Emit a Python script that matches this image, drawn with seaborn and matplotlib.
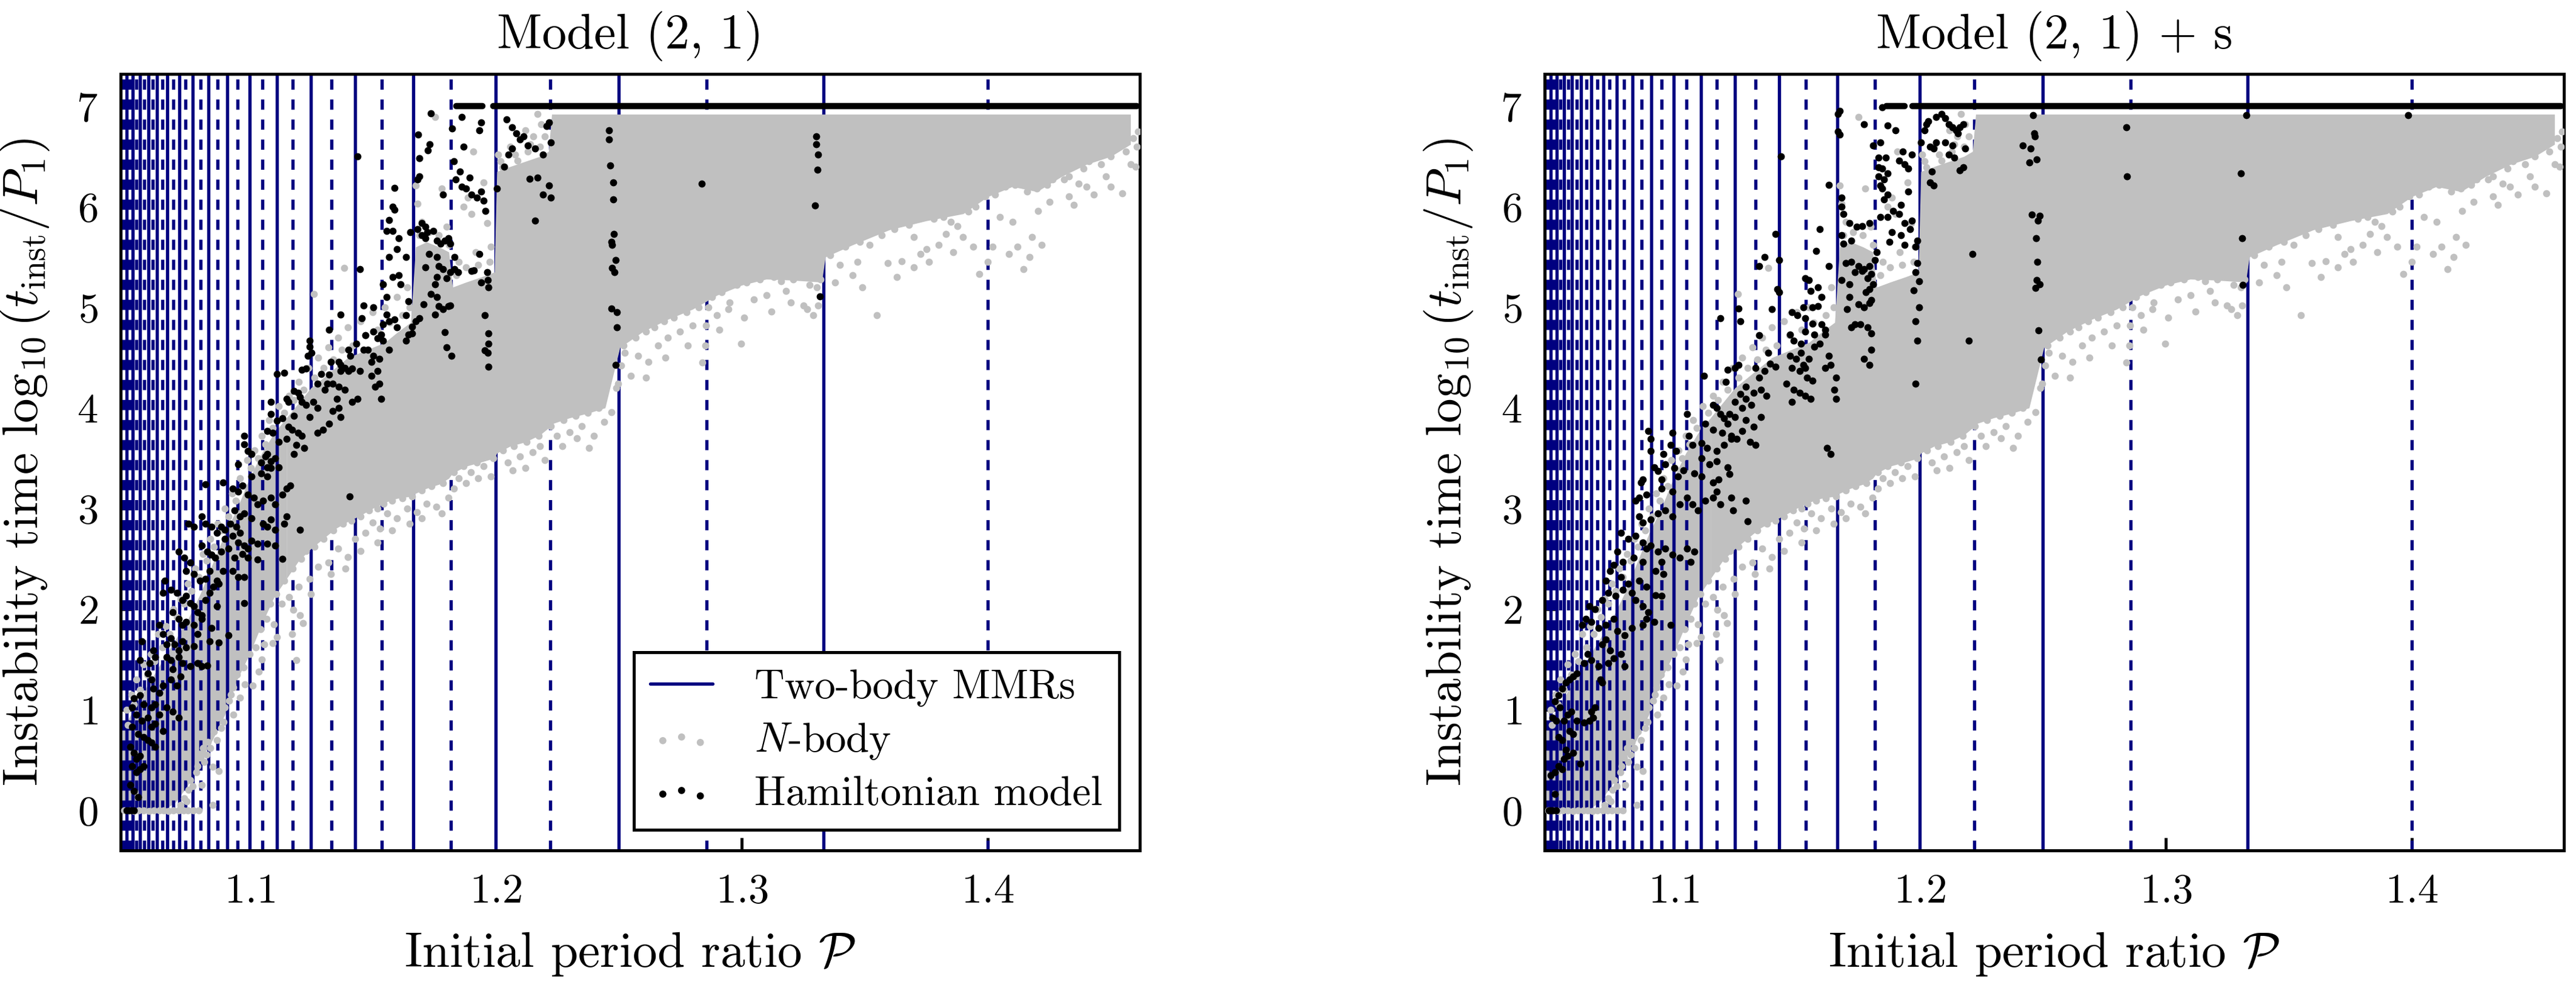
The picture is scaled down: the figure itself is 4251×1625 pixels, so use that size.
"""Instability time vs initial period ratio: N-body runs against the Hamiltonian model."""

import matplotlib
matplotlib.use("Agg")
import matplotlib.pyplot as plt
from matplotlib.lines import Line2D
import pandas as pd
import seaborn as sns

# ---------------- resonances: first order (p+1)/p, second order (p+2)/p ----------------
first_order_p = [3, 4, 5, 6, 7, 8, 9, 10, 11, 12, 13, 14, 15, 16, 17, 18, 19, 20, 21]
second_order_p = [5, 7, 9, 11, 13, 15, 17, 19, 21, 23, 25, 27, 29, 31, 33, 35, 37, 39, 41]

x_ticks = [1.1, 1.2, 1.3, 1.4]
y_ticks = [0, 1, 2, 3, 4, 5, 6, 7]

# ---------------- N-body cloud: dense core (lower / upper envelope) ----------------
core_x = [1.0485, 1.055, 1.06, 1.065, 1.07, 1.075, 1.08, 1.085, 1.09, 1.095, 1.10, 1.105, 1.11,
          1.115, 1.12, 1.125, 1.13, 1.135, 1.14, 1.145, 1.15, 1.155, 1.16, 1.1655, 1.1675, 1.172,
          1.177, 1.181, 1.1825, 1.188, 1.194, 1.1995, 1.2005, 1.206, 1.212, 1.218, 1.2215, 1.2228,
          1.23, 1.238, 1.2445, 1.2505, 1.26, 1.27, 1.28, 1.29, 1.30, 1.31, 1.32, 1.3325, 1.334,
          1.345, 1.36, 1.375, 1.39, 1.40, 1.41, 1.42, 1.43, 1.44, 1.45, 1.458]
core_lo = [0.0, 0.0, 0.0, 0.0, 0.08, 0.25, 0.5, 0.7, 0.95, 1.3, 1.55, 1.85, 2.12, 2.3, 2.48, 2.6,
           2.7, 2.8, 2.87, 2.93, 3.0, 3.06, 3.1, 3.12, 3.15, 3.2, 3.24, 3.3, 3.35, 3.42, 3.46, 3.5,
           3.55, 3.62, 3.66, 3.73, 3.8, 3.84, 3.9, 3.95, 4.0, 4.6, 4.76, 4.88, 4.98, 5.12, 5.22,
           5.28, 5.27, 5.25, 5.5, 5.62, 5.77, 5.86, 5.93, 6.1, 6.2, 6.15, 6.3, 6.42, 6.5, 6.62]
core_hi = [0.8, 1.1, 1.3, 1.5, 1.7, 1.9, 2.15, 2.45, 2.75, 3.0, 3.3, 3.55, 3.75, 3.9, 4.05, 4.2,
           4.3, 4.4, 4.5, 4.55, 4.6, 4.65, 4.75, 4.85, 5.6, 5.65, 5.6, 5.55, 5.2, 5.25, 5.3, 5.35,
           6.35, 6.4, 6.45, 6.5, 6.55, 6.92, 6.92, 6.92, 6.92, 6.92, 6.92, 6.92, 6.92, 6.92, 6.92,
           6.92, 6.92, 6.92, 6.92, 6.92, 6.92, 6.92, 6.92, 6.92, 6.92, 6.92, 6.92, 6.92, 6.92, 6.92]
core_split = 1.115  # left of this the cloud is thin enough for the MMR lines to show through

# ---------------- N-body scattered points around the core ----------------
gray_floor = [(1.0490, 0.0), (1.0512, 0.0), (1.0530, -0.01), (1.0551, 0.0), (1.0570, 0.0),
              (1.0592, -0.01), (1.0611, 0.0), (1.0633, 0.0), (1.0650, 0.0), (1.0671, -0.01),
              (1.0690, 0.0), (1.0712, 0.0), (1.0733, 0.0), (1.0750, 0.0), (1.0772, 0.0),
              (1.0794, 0.0)]
gray_low = [(1.0744, 0.09), (1.0850, 0.05), (1.0805, 0.25), (1.0770, 0.24), (1.0752, 0.20),
            (1.0875, 0.39), (1.0850, 0.43), (1.0817, 0.48), (1.0790, 0.44), (1.0812, 0.62),
            (1.0830, 0.68), (1.0867, 0.70), (1.0855, 0.78), (1.0884, 0.82), (1.0895, 0.88),
            (1.0916, 1.09), (1.0960, 1.12), (1.0935, 0.95), (1.0933, 1.22), (1.0982, 1.25),
            (1.1014, 1.24), (1.1038, 1.38), (1.1050, 1.50), (1.1059, 1.65), (1.1095, 1.66),
            (1.1112, 1.72), (1.1100, 1.85), (1.1172, 1.75), (1.1189, 1.49), (1.1218, 1.86),
            (1.1205, 1.94), (1.1179, 1.99), (1.1130, 2.05), (1.1160, 2.12), (1.1200, 2.22),
            (1.1245, 2.30), (1.1280, 2.42), (1.1320, 2.46), (1.1360, 2.60), (1.1400, 2.52),
            (1.1430, 2.70), (1.1470, 2.76), (1.1500, 2.86), (1.1530, 2.80), (1.1560, 2.95),
            (1.1600, 2.90), (1.1640, 3.00), (1.1680, 2.96), (1.1720, 3.05), (1.1760, 3.02),
            (1.1808, 3.11), (1.1850, 3.30), (1.1900, 3.36), (1.1950, 3.42), (1.1980, 3.32),
            (1.2050, 3.46), (1.2100, 3.52), (1.2150, 3.56), (1.2200, 3.48), (1.2250, 3.72),
            (1.2300, 3.76), (1.2350, 3.82), (1.2400, 3.72), (1.2440, 3.86), (1.2470, 3.96),
            (1.2490, 4.20), (1.2497, 4.24), (1.2510, 4.42), (1.2525, 4.55), (1.2550, 4.32),
            (1.2580, 4.52), (1.2620, 4.46), (1.2660, 4.62), (1.2700, 4.70), (1.2750, 4.76),
            (1.2800, 4.82), (1.2840, 4.45), (1.2852, 4.62), (1.2855, 4.82), (1.2865, 5.00),
            (1.2900, 4.92), (1.2947, 4.98), (1.2998, 4.64), (1.2950, 5.05), (1.3050, 5.08),
            (1.3100, 5.12), (1.3180, 5.16), (1.3250, 5.02), (1.3266, 4.98), (1.3290, 4.92),
            (1.3310, 5.02), (1.3305, 5.20), (1.3400, 5.42), (1.3450, 5.32), (1.3490, 5.20),
            (1.3550, 4.92), (1.3594, 5.44), (1.3650, 5.46), (1.3727, 5.53), (1.3750, 5.58),
            (1.3800, 5.62), (1.3830, 5.73), (1.3877, 5.81), (1.3900, 5.70), (1.3966, 5.33),
            (1.4020, 5.60), (1.4050, 5.90), (1.4085, 5.53), (1.4100, 5.85), (1.4144, 5.38),
            (1.4180, 5.70), (1.4204, 5.96), (1.4220, 5.62), (1.4264, 6.27), (1.4310, 6.27),
            (1.4350, 6.02), (1.4370, 6.23), (1.4430, 6.12), (1.4480, 6.30), (1.4546, 6.13),
            (1.4580, 6.42), (1.4605, 6.60)]
gray_low2 = [(1.0720, 0.05), (1.0735, 0.12), (1.0760, 0.30), (1.0785, 0.38), (1.0800, 0.52),
             (1.0825, 0.55), (1.0840, 0.62), (1.0870, 0.92), (1.0900, 1.02), (1.0925, 1.15),
             (1.0950, 1.35), (1.0975, 1.42), (1.1000, 1.55), (1.1025, 1.62), (1.1045, 1.80),
             (1.1070, 1.90), (1.1085, 2.05), (1.1110, 2.15), (1.1140, 2.28), (1.1175, 2.40),
             (1.1210, 2.50), (1.1230, 2.58), (1.1265, 2.62), (1.1300, 2.70), (1.1340, 2.78),
             (1.1380, 2.85), (1.1415, 2.88), (1.1450, 2.92), (1.1485, 2.98), (1.1520, 3.00),
             (1.1545, 3.05), (1.1580, 3.08), (1.1620, 3.10), (1.1660, 3.12), (1.1700, 3.18),
             (1.1740, 3.22), (1.1785, 3.25), (1.1830, 3.36), (1.1870, 3.42), (1.1925, 3.46),
             (1.1990, 3.50), (1.2030, 3.58), (1.2075, 3.62), (1.2125, 3.66), (1.2175, 3.72),
             (1.2225, 3.82), (1.2275, 3.88), (1.2325, 3.92), (1.2375, 3.95), (1.2420, 4.00),
             (1.2520, 4.62), (1.2570, 4.70), (1.2610, 4.76), (1.2645, 4.80), (1.2685, 4.86),
             (1.2725, 4.90), (1.2775, 4.95), (1.2825, 5.00), (1.2880, 5.10), (1.2920, 5.15),
             (1.2980, 5.22), (1.3020, 5.25), (1.3075, 5.28), (1.3130, 5.30), (1.3160, 5.26),
             (1.3210, 5.28), (1.3275, 5.22), (1.3320, 5.28), (1.3360, 5.52), (1.3420, 5.60),
             (1.3480, 5.65), (1.3520, 5.62), (1.3570, 5.72), (1.3620, 5.78), (1.3680, 5.82),
             (1.3700, 5.70), (1.3780, 5.88), (1.3820, 5.90), (1.3850, 5.85), (1.3920, 5.95),
             (1.3950, 6.00), (1.3990, 6.10), (1.4030, 6.12), (1.4070, 6.20), (1.4110, 6.22),
             (1.4160, 6.15), (1.4200, 6.18), (1.4240, 6.22), (1.4290, 6.35), (1.4330, 6.30),
             (1.4390, 6.38), (1.4410, 6.45), (1.4460, 6.42), (1.4500, 6.50), (1.4520, 6.60),
             (1.4560, 6.55), (1.4590, 6.68), (1.4610, 6.75)]
gray_out = [(1.1250, 2.15), (1.1330, 2.35), (1.1390, 2.40), (1.1450, 2.58), (1.1520, 2.66),
            (1.1580, 2.78), (1.1650, 2.85), (1.1700, 2.90), (1.1780, 2.95), (1.1830, 3.20),
            (1.1880, 3.25), (1.1930, 3.30), (1.2070, 3.38), (1.2120, 3.40), (1.2180, 3.62),
            (1.2270, 3.62), (1.2330, 3.70), (1.2380, 3.60), (1.2610, 4.30), (1.2690, 4.50),
            (1.2780, 4.62), (1.2910, 4.78), (1.3010, 4.90), (1.3120, 4.96), (1.3200, 5.05),
            (1.3380, 5.25), (1.3470, 5.45), (1.3630, 5.30), (1.3700, 5.40), (1.3760, 5.45),
            (1.3860, 5.55), (1.3940, 5.60), (1.4000, 5.45), (1.4120, 5.60), (1.4170, 5.50),
            (1.4250, 6.05), (1.4330, 6.10), (1.4400, 6.20), (1.4500, 6.20), (1.4600, 6.40)]
gray_up = [(1.0500, 1.00), (1.0520, 1.15), (1.0540, 1.30), (1.0570, 1.45), (1.0600, 1.55),
           (1.0630, 1.75), (1.0662, 1.83), (1.0690, 2.00), (1.0720, 2.10), (1.0750, 2.25),
           (1.0780, 2.40), (1.0810, 2.55), (1.0840, 2.70), (1.0870, 2.85), (1.0900, 3.00),
           (1.0930, 3.15), (1.0960, 3.30), (1.0990, 3.48), (1.1020, 3.58), (1.1050, 3.72),
           (1.1080, 3.88), (1.1120, 4.02), (1.1160, 4.12), (1.1200, 4.26), (1.1240, 4.40),
           (1.1261, 5.13), (1.1280, 4.50), (1.1320, 4.60), (1.1360, 4.70), (1.1385, 5.39),
           (1.1400, 4.80), (1.1450, 4.86), (1.1500, 4.95), (1.1550, 5.00), (1.1600, 5.10),
           (1.1640, 5.20), (1.1675, 6.21), (1.1683, 6.03), (1.1700, 5.85), (1.1753, 6.89),
           (1.1780, 6.18), (1.1800, 5.80), (1.1870, 6.00), (1.1887, 6.09), (1.1902, 5.93),
           (1.1910, 6.55), (1.1950, 6.24), (1.1965, 5.84), (1.1850, 5.45), (1.1920, 5.55),
           (1.1980, 5.60), (1.2010, 6.52), (1.2028, 6.39), (1.2075, 6.33), (1.2090, 6.46),
           (1.2122, 6.76), (1.2153, 6.70), (1.2169, 6.92), (1.2185, 6.82), (1.2060, 6.60),
           (1.2200, 6.70), (1.2140, 6.62)]
gray_up2 = [(1.0505, 0.85), (1.0530, 1.05), (1.0555, 1.20), (1.0585, 1.35), (1.0615, 1.48),
            (1.0645, 1.62), (1.0675, 1.75), (1.0705, 1.92), (1.0735, 2.05), (1.0765, 2.18),
            (1.0795, 2.32), (1.0825, 2.48), (1.0855, 2.62), (1.0885, 2.78), (1.0915, 2.92),
            (1.0945, 3.08), (1.0975, 3.22), (1.1005, 3.40), (1.1035, 3.50), (1.1065, 3.64),
            (1.1095, 3.80), (1.1140, 3.95), (1.1180, 4.08), (1.1220, 4.18), (1.1265, 4.30),
            (1.1300, 4.40), (1.1340, 4.48), (1.1375, 4.58), (1.1420, 4.62), (1.1470, 4.72),
            (1.1520, 4.78), (1.1570, 4.85), (1.1620, 4.92), (1.1650, 5.00), (1.1690, 5.72),
            (1.1730, 5.75), (1.1770, 5.72), (1.1810, 5.62), (1.1840, 5.32), (1.1880, 5.40),
            (1.1930, 5.42), (1.1975, 5.45), (1.2020, 6.45), (1.2080, 6.52), (1.2130, 6.55),
            (1.2180, 6.60)]

# ---------------- Hamiltonian model, Model (2, 1) ----------------
black_left_low = [
    (1.0931, 3.20), (1.0955, 3.17), (1.0970, 3.23), (1.0994, 3.14), (1.1017, 3.11), (1.1033, 3.04),
    (1.1056, 3.08), (1.1088, 3.11), (1.1103, 3.04), (1.1134, 3.14), (1.1150, 3.20), (1.1166, 3.23),
    (1.0939, 2.98), (1.0962, 2.92), (1.0978, 2.95), (1.1009, 2.90), (1.1056, 2.85), (1.1072, 2.82),
    (1.1088, 2.89), (1.1103, 2.79), (1.1142, 2.85), (1.1150, 2.92), (1.0884, 2.82), (1.0899, 2.79),
    (1.0923, 2.85), (1.0946, 2.82), (1.0962, 2.76), (1.0899, 2.70), (1.0931, 2.73), (1.0955, 2.66),
    (1.0978, 2.63), (1.0994, 2.60), (1.1009, 2.68), (1.1033, 2.65), (1.1072, 2.65), (1.1103, 2.63),
    (1.0774, 2.82), (1.0751, 2.85), (1.0805, 2.92), (1.0821, 2.85), (1.0845, 2.82), (1.0868, 2.76),
    (1.0712, 2.57), (1.0735, 2.51), (1.0759, 2.46), (1.0805, 2.63), (1.0829, 2.57), (1.0845, 2.54),
    (1.0860, 2.51), (1.0884, 2.57), (1.0915, 2.60), (1.0939, 2.51), (1.0970, 2.55), (1.0994, 2.51),
    (1.1033, 2.49), (1.0743, 2.38), (1.0774, 2.35), (1.0798, 2.28), (1.0821, 2.30), (1.0837, 2.38),
    (1.0868, 2.28), (1.0892, 2.38), (1.0931, 2.38), (1.0955, 2.32), (1.0978, 2.32), (1.1134, 2.50),
    (1.1205, 2.79), (1.1408, 3.12), (1.0680, 2.19), (1.0704, 2.16), (1.0727, 2.09), (1.0743, 2.13),
    (1.0759, 2.06), (1.0774, 2.03), (1.0790, 1.97), (1.0805, 1.94), (1.0821, 2.09), (1.0837, 2.16),
    (1.0852, 2.22), (1.0876, 2.25), (1.0688, 1.97), (1.0712, 1.90), (1.0727, 1.84), (1.0743, 1.87),
    (1.0774, 1.84), (1.0805, 1.90), (1.0845, 1.81), (1.0868, 2.03), (1.0915, 1.74), (1.0978, 2.06),
    (1.0633, 1.84), (1.0649, 1.75), (1.0664, 1.65), (1.0680, 1.71), (1.0696, 1.65), (1.0712, 1.59),
    (1.0727, 1.68), (1.0743, 1.62), (1.0774, 1.63), (1.0790, 1.75), (1.0837, 1.68), (1.0876, 1.67),
    (1.0664, 1.52), (1.0680, 1.49), (1.0688, 1.40), (1.0712, 1.52), (1.0727, 1.46), (1.0759, 1.43),
    (1.0790, 1.46), (1.0805, 1.43), (1.0829, 1.44), (1.0609, 1.59), (1.0617, 1.52), (1.0594, 1.46),
    (1.0554, 1.49), (1.0562, 1.68), (1.0649, 2.16), (1.0656, 2.28), (1.0586, 1.36), (1.0601, 1.30),
    (1.0609, 1.21), (1.0633, 1.17), (1.0649, 1.24), (1.0680, 1.30), (1.0704, 1.24), (1.0719, 1.33),
    (1.0531, 1.11), (1.0554, 1.14), (1.0570, 1.05), (1.0601, 1.02), (1.0617, 1.05), (1.0633, 0.95),
    (1.0664, 1.02), (1.0688, 0.98), (1.0712, 0.92), (1.0523, 1.02), (1.0539, 0.95), (1.0562, 0.89),
    (1.0586, 0.92), (1.0601, 0.83), (1.0617, 0.86), (1.0649, 0.79), (1.0523, 0.83), (1.0547, 0.76),
    (1.0570, 0.73), (1.0586, 0.70), (1.0601, 0.67), (1.0617, 0.63), (1.0515, 0.63), (1.0531, 0.57),
    (1.0554, 0.54), (1.0570, 0.44), (1.0539, 0.51), (1.0523, 0.44), (1.0539, 0.38), (1.0554, 0.41),
    (1.0515, 0.25), (1.0531, 0.19), (1.0547, 0.13), (1.0500, 0.0), (1.0510, 0.0), (1.0520, 0.0),
    (1.0530, 0.0)]
black_left_mid = [
    (1.0978, 3.72), (1.0978, 3.64), (1.0994, 3.57), (1.1009, 3.54), (1.0955, 3.44), (1.1072, 3.77),
    (1.1064, 3.52), (1.1048, 3.46), (1.1072, 3.41), (1.1088, 3.40), (1.1119, 3.41), (1.1009, 3.32),
    (1.1048, 3.35), (1.1072, 3.32), (1.0822, 3.24), (1.0892, 3.26), (1.1111, 4.34), (1.1142, 4.35),
    (1.1181, 4.17), (1.1197, 4.15), (1.1205, 4.11), (1.1150, 4.09), (1.1158, 4.06), (1.1213, 4.06),
    (1.1229, 4.03), (1.1088, 4.06), (1.1111, 3.87), (1.1134, 3.90), (1.1181, 3.92), (1.1158, 3.81),
    (1.1174, 3.78), (1.1197, 3.75), (1.1088, 3.94), (1.1095, 3.75), (1.1119, 3.66), (1.1150, 3.69),
    (1.1189, 3.63), (1.1213, 3.72), (1.1072, 3.54), (1.1088, 3.47), (1.1103, 3.50), (1.1181, 3.54),
    (1.1221, 3.60), (1.1323, 4.78), (1.1370, 4.93), (1.1331, 4.46), (1.1362, 4.46), (1.1370, 4.43),
    (1.1386, 4.40), (1.1323, 4.33), (1.1339, 4.24), (1.1307, 4.18), (1.1315, 4.24), (1.1354, 4.09),
    (1.1362, 4.00), (1.1339, 3.97), (1.1370, 3.91), (1.1323, 3.84), (1.1299, 3.78), (1.1276, 3.75),
    (1.1244, 4.67), (1.1244, 4.61), (1.1252, 4.55), (1.1236, 4.52), (1.1229, 4.39), (1.1213, 4.38),
    (1.1276, 4.24), (1.1291, 4.34), (1.1260, 4.06), (1.1276, 4.00), (1.1244, 3.91), (1.1448, 5.38),
    (1.1440, 6.50), (1.1503, 5.00), (1.1464, 5.02), (1.1456, 4.89), (1.1472, 4.72), (1.1503, 4.76),
    (1.1519, 4.69), (1.1534, 4.73), (1.1433, 4.64), (1.1480, 4.58), (1.1503, 4.52), (1.1527, 4.49),
    (1.1495, 4.46), (1.1464, 4.58), (1.1448, 4.37), (1.1495, 4.32), (1.1519, 4.37), (1.1401, 4.58),
    (1.1409, 4.52), (1.1417, 4.39), (1.1401, 4.37), (1.1370, 4.37), (1.1386, 4.18), (1.1362, 4.21),
    (1.1440, 4.09), (1.1417, 4.06), (1.1511, 4.21), (1.1534, 4.09), (1.1527, 4.24)]
black_left_top = [
    (1.1590, 6.19), (1.1582, 6.00), (1.1590, 5.97), (1.1566, 5.87), (1.1558, 5.76), (1.1582, 5.76),
    (1.1606, 5.69), (1.1566, 5.50), (1.1598, 5.58), (1.1637, 5.50), (1.1652, 5.75), (1.1543, 5.23),
    (1.1558, 5.10), (1.1582, 5.30), (1.1606, 5.32), (1.1613, 5.23), (1.1558, 4.93), (1.1590, 4.88),
    (1.1637, 4.92), (1.1645, 5.06), (1.1543, 4.83), (1.1566, 4.86), (1.1598, 4.80), (1.1543, 4.67),
    (1.1566, 4.58), (1.1660, 4.81), (1.1645, 4.73), (1.1637, 4.67), (1.1683, 5.78), (1.1699, 5.84),
    (1.1714, 5.80), (1.1722, 5.75), (1.1746, 5.76), (1.1699, 5.72), (1.1714, 5.69), (1.1762, 5.66),
    (1.1777, 5.63), (1.1793, 5.66), (1.1808, 5.69), (1.1816, 5.63), (1.1832, 5.50), (1.1730, 5.53),
    (1.1762, 5.50), (1.1769, 5.41), (1.1785, 5.38), (1.1714, 5.40), (1.1801, 5.29), (1.1816, 5.35),
    (1.1832, 5.38), (1.1761, 5.30), (1.1754, 5.23), (1.1738, 5.13), (1.1707, 5.03), (1.1761, 5.10),
    (1.1769, 5.01), (1.1785, 4.98), (1.1808, 5.01), (1.1816, 5.02), (1.1691, 4.89), (1.1754, 4.93),
    (1.1793, 4.75), (1.1676, 4.86), (1.1660, 4.74), (1.1801, 4.60), (1.1820, 4.52), (1.1957, 4.92),
    (1.1970, 4.74), (1.1972, 4.64), (1.1968, 4.55), (1.1972, 4.41), (1.1955, 4.57), (1.1934, 5.53),
    (1.1911, 5.37), (1.1965, 5.35), (1.1968, 5.27), (1.1972, 5.20), (1.1941, 5.25), (1.1848, 5.35),
    (1.1903, 5.36), (1.1737, 6.93), (1.1685, 6.72), (1.1690, 6.48), (1.1725, 6.56), (1.1732, 6.62),
    (1.1690, 6.30), (1.1683, 6.27), (1.1787, 6.12), (1.1831, 6.45), (1.1839, 6.27), (1.1863, 6.89),
    (1.1823, 6.78), (1.1863, 6.20), (1.1879, 6.18), (1.1902, 6.12), (1.1925, 6.09), (1.1941, 6.15),
    (1.1895, 6.29), (1.1950, 6.06), (1.1958, 5.96), (1.2005, 6.18), (1.2036, 6.40), (1.2052, 6.52),
    (1.2067, 6.58), (1.2099, 6.67), (1.2130, 6.61), (1.2161, 6.58), (1.2193, 6.52), (1.2208, 6.80),
    (1.2216, 6.84), (1.2224, 6.64), (1.2138, 6.28), (1.2169, 6.29), (1.2193, 6.12), (1.2216, 6.21),
    (1.2224, 6.09), (1.2044, 6.87), (1.2067, 6.79), (1.2083, 6.73), (1.2114, 6.70), (1.2161, 5.86),
    (1.1941, 6.84), (1.1934, 6.76), (1.1871, 6.60), (1.1855, 6.35), (1.2462, 6.76), (1.2462, 6.67),
    (1.2465, 6.41), (1.2477, 6.24), (1.2477, 6.07), (1.2480, 5.73), (1.2470, 5.65), (1.2474, 5.62),
    (1.2489, 5.47), (1.2474, 5.39), (1.2484, 5.35), (1.2470, 4.99), (1.2492, 4.95), (1.2492, 4.80),
    (1.2489, 4.43), (1.2837, 6.23), (1.3303, 6.70), (1.3303, 6.62), (1.3310, 6.52), (1.3308, 6.37),
    (1.3299, 6.01), (1.3318, 5.11)]

# ---------------- Hamiltonian model, Model (2, 1) + s ----------------
black_right_low = [
    (1.0846, 3.08), (1.0861, 3.11), (1.0861, 2.92), (1.0876, 2.86), (1.0906, 2.89), (1.0936, 2.95),
    (1.0966, 2.98), (1.0996, 2.92), (1.1025, 3.04), (1.1055, 3.11), (1.1078, 3.04), (1.1100, 2.98),
    (1.1130, 3.08), (1.1160, 3.11), (1.1175, 3.17), (1.1190, 3.04), (1.1235, 3.11), (1.1295, 3.08),
    (1.1242, 2.98), (1.1302, 2.87), (1.0891, 3.14), (1.0951, 3.20), (1.0996, 3.17), (1.0786, 2.76),
    (1.0816, 2.70), (1.0846, 2.73), (1.0876, 2.66), (1.0891, 2.60), (1.0906, 2.63), (1.0936, 2.57),
    (1.0966, 2.60), (1.0996, 2.54), (1.1025, 2.51), (1.1055, 2.60), (1.1085, 2.57), (1.1070, 2.47),
    (1.0951, 2.47), (1.0928, 2.38), (1.0958, 2.35), (1.0876, 2.47), (1.0838, 2.51), (1.0794, 2.47),
    (1.0771, 2.57), (1.0756, 2.44), (1.0741, 2.38), (1.0726, 2.28), (1.0786, 2.32), (1.0816, 2.25),
    (1.0861, 2.28), (1.0891, 2.22), (1.0928, 2.14), (1.0951, 2.13), (1.0876, 2.03), (1.0898, 1.97),
    (1.0831, 2.16), (1.0846, 2.09), (1.0794, 2.19), (1.0764, 2.13), (1.0734, 2.16), (1.0711, 2.09),
    (1.0681, 2.00), (1.0659, 2.03), (1.0644, 1.90), (1.0629, 1.84), (1.0666, 1.87), (1.0696, 1.81),
    (1.0726, 1.84), (1.0756, 1.90), (1.0771, 1.78), (1.0801, 1.74), (1.0831, 1.81), (1.0876, 1.84),
    (1.0891, 1.90), (1.0921, 1.87), (1.0988, 1.84), (1.0726, 1.70), (1.0711, 1.65), (1.0741, 1.59),
    (1.0756, 1.51), (1.0786, 1.55), (1.0801, 1.43), (1.0734, 1.46), (1.0696, 1.43), (1.0666, 1.49),
    (1.0651, 1.55), (1.0636, 1.46), (1.0606, 1.36), (1.0591, 1.33), (1.0577, 1.30), (1.0562, 1.27),
    (1.0547, 1.21), (1.0532, 1.14), (1.0517, 1.08), (1.0539, 1.02), (1.0569, 0.95), (1.0584, 0.98),
    (1.0606, 0.89), (1.0636, 0.87), (1.0659, 0.89), (1.0681, 1.02), (1.0711, 1.27), (1.0704, 1.30),
    (1.0666, 0.98), (1.0674, 0.92), (1.0509, 0.92), (1.0524, 0.89), (1.0554, 0.89), (1.0577, 0.79),
    (1.0591, 0.76), (1.0547, 0.70), (1.0532, 0.73), (1.0562, 0.60), (1.0569, 0.54), (1.0591, 0.57),
    (1.0554, 0.51), (1.0532, 0.44), (1.0517, 0.38), (1.0547, 0.41), (1.0621, 0.46), (1.0502, 0.35),
    (1.0517, 0.16), (1.0494, 0.0), (1.0502, 0.0), (1.0509, 0.0), (1.0524, 0.0)]
black_right_mid = [
    (1.0898, 3.77), (1.0906, 3.69), (1.0906, 3.57), (1.0996, 3.75), (1.0988, 3.63), (1.1010, 3.57),
    (1.0958, 3.54), (1.0966, 3.44), (1.0921, 3.41), (1.0936, 3.37), (1.1003, 3.40), (1.1018, 3.32),
    (1.1040, 3.38), (1.0868, 3.26), (1.0876, 3.29), (1.0951, 3.29), (1.1123, 4.32), (1.1160, 4.03),
    (1.1175, 4.00), (1.1190, 3.94), (1.1205, 3.90), (1.1130, 3.84), (1.1160, 3.78), (1.1197, 3.75),
    (1.1220, 3.84), (1.1115, 3.65), (1.1137, 3.60), (1.1175, 3.57), (1.1205, 3.63), (1.1235, 3.69),
    (1.1055, 3.94), (1.1063, 3.72), (1.1078, 3.63), (1.1115, 3.50), (1.1145, 3.44), (1.1175, 3.47),
    (1.1220, 3.41), (1.1085, 3.35), (1.1115, 3.32), (1.1160, 3.26), (1.1182, 3.29), (1.1227, 3.34),
    (1.1414, 5.73), (1.1429, 5.47), (1.1437, 6.50), (1.1370, 5.50), (1.1347, 5.41), (1.1400, 4.98),
    (1.1422, 5.18), (1.1429, 5.15), (1.1347, 4.72), (1.1385, 4.55), (1.1392, 4.44), (1.1414, 4.41),
    (1.1370, 4.37), (1.1332, 4.40), (1.1347, 4.30), (1.1295, 4.21), (1.1325, 4.15), (1.1355, 4.18),
    (1.1377, 4.12), (1.1250, 4.40), (1.1265, 4.43), (1.1272, 4.14), (1.1295, 4.09), (1.1250, 4.06),
    (1.1280, 4.00), (1.1317, 4.03), (1.1227, 3.94), (1.1250, 3.91), (1.1295, 3.88), (1.1325, 3.81),
    (1.1355, 3.91), (1.1235, 3.72), (1.1257, 3.69), (1.1280, 3.77), (1.1310, 3.66), (1.1332, 3.63),
    (1.1190, 4.89), (1.1265, 4.99), (1.1272, 4.86), (1.1220, 4.38), (1.1212, 4.26)]
black_right_top = [
    (1.1579, 5.56), (1.1594, 5.78), (1.1631, 6.22), (1.1631, 5.41), (1.1534, 5.29), (1.1549, 5.27),
    (1.1557, 5.16), (1.1587, 5.20), (1.1602, 5.10), (1.1527, 5.00), (1.1564, 5.00), (1.1587, 5.01),
    (1.1482, 4.95), (1.1504, 4.92), (1.1534, 4.89), (1.1564, 4.84), (1.1602, 4.83), (1.1617, 4.78),
    (1.1474, 4.73), (1.1489, 4.67), (1.1519, 4.64), (1.1534, 4.76), (1.1572, 4.73), (1.1617, 4.73),
    (1.1474, 4.52), (1.1497, 4.49), (1.1519, 4.55), (1.1549, 4.49), (1.1572, 4.61), (1.1594, 4.64),
    (1.1482, 4.40), (1.1512, 4.37), (1.1542, 4.30), (1.1564, 4.27), (1.1527, 4.43), (1.1534, 4.40),
    (1.1459, 4.24), (1.1489, 4.18), (1.1512, 4.15), (1.1534, 4.12), (1.1557, 4.09), (1.1482, 4.06),
    (1.1624, 3.60), (1.1639, 3.54), (1.1684, 6.09), (1.1684, 6.00), (1.1691, 5.93), (1.1714, 5.84),
    (1.1744, 5.80), (1.1766, 5.81), (1.1796, 5.84), (1.1684, 5.72), (1.1691, 5.63), (1.1721, 5.66),
    (1.1699, 5.44), (1.1721, 5.45), (1.1751, 5.41), (1.1774, 5.38), (1.1796, 5.41), (1.1736, 5.35),
    (1.1766, 5.36), (1.1804, 5.33), (1.1684, 5.27), (1.1714, 5.23), (1.1789, 5.29), (1.1811, 5.23),
    (1.1796, 5.18), (1.1781, 5.15), (1.1714, 5.10), (1.1751, 5.03), (1.1774, 5.00), (1.1796, 5.04),
    (1.1804, 5.07), (1.1706, 4.98), (1.1736, 4.83), (1.1759, 4.83), (1.1789, 4.80), (1.1804, 4.74),
    (1.1721, 4.80), (1.1804, 4.58), (1.1796, 4.43), (1.1774, 4.49), (1.1661, 4.30), (1.1654, 4.18),
    (1.1661, 4.09), (1.1631, 4.52), (1.1639, 4.43), (1.1616, 4.40), (1.1818, 5.47), (1.1826, 5.55),
    (1.1669, 6.92), (1.1676, 6.95), (1.1669, 6.75), (1.1676, 6.72), (1.1774, 6.82), (1.1848, 6.99),
    (1.1871, 6.81), (1.1901, 6.76), (1.1811, 6.61), (1.1841, 6.64), (1.1833, 6.49), (1.1863, 6.49),
    (1.1833, 6.39), (1.1848, 6.38), (1.1871, 6.33), (1.1833, 6.30), (1.1856, 6.27), (1.1841, 6.21),
    (1.1848, 6.18), (1.1871, 6.12), (1.1856, 6.07), (1.1916, 6.46), (1.1938, 6.42), (1.1953, 6.38),
    (1.1968, 6.52), (1.1931, 6.55), (1.1893, 5.96), (1.1923, 6.02), (1.1916, 5.93), (1.1953, 6.15),
    (1.1968, 5.86), (1.1938, 5.84), (1.1961, 5.78), (1.1923, 5.72), (1.1886, 5.75), (1.1871, 5.90),
    (1.1841, 5.90), (1.1878, 5.65), (1.1938, 5.62), (1.1983, 5.60), (1.1991, 5.66), (1.1991, 5.44),
    (1.1983, 5.35), (1.1998, 5.26), (1.1976, 5.17), (1.1998, 5.00), (1.1983, 4.86), (1.1991, 4.67),
    (1.1983, 4.24), (1.2200, 4.67), (1.2215, 5.53), (1.2006, 6.64), (1.2021, 6.76), (1.2028, 6.82),
    (1.2036, 6.85), (1.2043, 6.60), (1.2058, 6.58), (1.2066, 6.64), (1.2050, 6.35), (1.2043, 6.24),
    (1.2058, 6.21), (1.2066, 6.89), (1.2088, 6.92), (1.2103, 6.88), (1.2118, 6.82), (1.2133, 6.79),
    (1.2148, 6.76), (1.2155, 6.73), (1.2163, 6.79), (1.2178, 6.82), (1.2118, 6.52), (1.2140, 6.49),
    (1.2163, 6.36), (1.2178, 6.39), (1.2185, 6.58), (1.2103, 6.64), (1.2133, 6.61), (1.2461, 6.91),
    (1.2465, 6.73), (1.2468, 6.70), (1.2420, 6.61), (1.2450, 6.58), (1.2446, 6.44), (1.2476, 6.47),
    (1.2455, 5.92), (1.2488, 5.91), (1.2480, 5.86), (1.2473, 5.69), (1.2479, 5.45), (1.2476, 5.27),
    (1.2488, 5.23), (1.2470, 5.19), (1.2482, 4.77), (1.2494, 4.48), (1.2840, 6.79), (1.2843, 6.30),
    (1.3328, 6.91), (1.3305, 6.33), (1.3311, 5.69), (1.3314, 5.22), (1.3985, 6.91)]

# runs of systems still stable at the end of the integrations (log10 t = 7): the points
# are packed so tightly along P that they merge into a band
stable_left_start = [1.1840, 1.1990]
stable_left_end = [1.1945, 1.4605]
stable_right_start = [1.1865, 1.1970]
stable_right_end = [1.1940, 1.4605]
T_MAX = 7.0

NAVY = "#000080"
GRAY = "#c0c0c0"
DOT = 8
LW = 1.3
BAND = 2.5  # pt, one marker diameter


def to_df(*groups):
    '''Stack lists of (ratio, logt) pairs into one frame'''
    pts = [p for g in groups for p in g]
    return pd.DataFrame(pts, columns=["ratio", "logt"])


gray_df = to_df(gray_floor, gray_low, gray_low2, gray_out, gray_up, gray_up2)
black_left_df = to_df(black_left_low, black_left_mid, black_left_top)
black_right_df = to_df(black_right_low, black_right_mid, black_right_top)

sns.set_theme(style="ticks")
plt.rcParams.update({
    "font.family": "serif",
    "font.serif": ["cmr10"],
    "mathtext.fontset": "cm",
    "axes.formatter.use_mathtext": True,
    "axes.unicode_minus": False,
    "axes.edgecolor": "black",
    "axes.labelcolor": "black",
    "text.color": "black",
    "axes.linewidth": 1.2,
    "xtick.color": "black",
    "ytick.color": "black",
    "xtick.direction": "in",
    "ytick.direction": "in",
    "xtick.major.size": 5,
    "ytick.major.size": 5,
    "xtick.major.width": 1.2,
    "ytick.major.width": 1.2,
    "xtick.major.pad": 9,
    "ytick.major.pad": 9,
    "xtick.labelsize": 16.5,
    "ytick.labelsize": 16.5,
    "axes.labelsize": 19.5,
    "axes.titlesize": 19.5,
    "legend.fontsize": 16.5,
})


def draw_panel(ax, black_df, stable_start, stable_end, title):
    for p in first_order_p:
        ax.axvline((p + 1) / p, color=NAVY, lw=LW, zorder=1)
    for p in second_order_p:
        ax.axvline((p + 2) / p, color=NAVY, lw=LW, ls=(0, (3.1, 3.0)), zorder=1)
    # dense N-body core: behind the MMR lines where the cloud is thin, in front elsewhere
    ax.fill_between(core_x, core_lo, core_hi, where=[x <= core_split for x in core_x],
                    color=GRAY, lw=0, zorder=0.5)
    ax.fill_between(core_x, core_lo, core_hi, where=[x >= core_split for x in core_x],
                    color=GRAY, lw=0, zorder=2)
    n0 = len(ax.collections)
    sns.scatterplot(data=gray_df, x="ratio", y="logt", color=GRAY, s=DOT,
                    linewidth=0, zorder=3, ax=ax)
    sns.scatterplot(data=black_df, x="ratio", y="logt", color="black", s=DOT,
                    linewidth=0, zorder=4, ax=ax)
    ax.hlines([T_MAX] * len(stable_start), stable_start, stable_end, colors="black",
              lw=BAND, capstyle="round", zorder=4)
    ax.set_xlim(1.0476, 1.4618)
    ax.set_ylim(-0.4, 7.32)
    ax.set_xticks(x_ticks)
    ax.set_yticks(y_ticks)
    ax.tick_params(top=False, right=False)
    ax.set_xlabel(r"Initial period ratio $\mathcal{P}$", labelpad=8)
    ax.set_ylabel(r"Instability time $\log_{10}(t_{\rm inst}/P_1)$", labelpad=10)
    ax.set_title(title, pad=10)
    return ax.collections[n0], ax.collections[n0 + 1]


fig, axes = plt.subplots(1, 2, figsize=(4251 / 300, 1625 / 300), dpi=300)
fig.subplots_adjust(left=0.0468, right=0.9953, bottom=0.1366, top=0.9249, wspace=0.397)

gray_h, black_h = draw_panel(axes[0], black_left_df, stable_left_start, stable_left_end,
                             "Model (2, 1)")
draw_panel(axes[1], black_right_df, stable_right_start, stable_right_end,
           "Model (2, 1) + s")

mmr_h = Line2D([0], [0], color=NAVY, lw=LW)
leg = axes[0].legend([mmr_h, gray_h, black_h],
                     ["Two-body MMRs", "$N$-body", "Hamiltonian model"],
                     loc="lower right", scatterpoints=3, frameon=True, fancybox=False,
                     framealpha=1, edgecolor="black", handlelength=1.5,
                     handletextpad=1.0, labelspacing=0.35, borderaxespad=0.5)
leg.get_frame().set_linewidth(1.2)
leg.set_zorder(10)

fig.savefig("out.png", dpi=300)
